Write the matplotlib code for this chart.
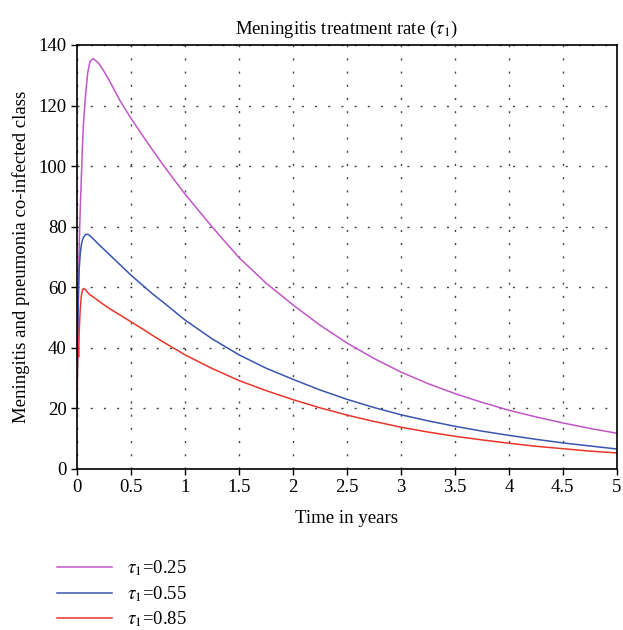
import numpy as np
import matplotlib
matplotlib.use("Agg")
import matplotlib.pyplot as plt

plt.rcParams["font.family"] = ["Liberation Serif", "DejaVu Serif"]
plt.rcParams["mathtext.fontset"] = "stix"

# time points (years)
t = [0, 0.005, 0.01, 0.015, 0.02, 0.03, 0.04, 0.05, 0.06, 0.08, 0.1, 0.12,
     0.15, 0.2, 0.25, 0.3, 0.4, 0.5, 0.6, 0.7, 0.8, 0.9, 1.0, 1.25, 1.5, 1.75,
     2.0, 2.25, 2.5, 2.75, 3.0, 3.25, 3.5, 3.75, 4.0, 4.25, 4.5, 4.75, 5.0]

# co-infected class for each treatment rate
tau_025 = [20, 35, 50, 62, 73, 86, 96, 106, 114, 124, 131, 134.5,
           135.5, 134, 131.3, 128.2, 121.5, 115.8, 110.5, 105.3, 100.3, 95.5, 90.8, 80, 69.8, 61.4,
           54.2, 47.5, 41.6, 36.5, 32.0, 28.2, 24.9, 22.0, 19.4, 17.2, 15.2, 13.4, 11.8]
tau_055 = [20, 40, 52, 60, 66, 71, 74, 75.5, 76.5, 77.4, 77.5, 77,
           76, 74.2, 72.5, 70.8, 67.4, 64.0, 60.9, 57.8, 55.0, 52.1, 49.2, 43, 37.7, 33.3,
           29.6, 26.1, 23.0, 20.3, 17.9, 15.9, 14.1, 12.5, 11.1, 9.8, 8.6, 7.6, 6.6]
tau_085 = [22, 38, 40.5, 37, 45, 53, 57, 59, 59.6, 59.2, 58.2, 57.5,
           56.8, 55.5, 54.2, 53.0, 50.8, 48.6, 46.4, 44.1, 41.9, 39.8, 37.7, 33.2, 29.2, 25.9,
           22.9, 20.2, 17.8, 15.7, 13.8, 12.2, 10.8, 9.6, 8.5, 7.5, 6.7, 5.9, 5.3]

xticks = [0, 0.5, 1, 1.5, 2, 2.5, 3, 3.5, 4, 4.5, 5]
xlabels = ["0", "0.5", "1", "1.5", "2", "2.5", "3", "3.5", "4", "4.5", "5"]
yticks = [0, 20, 40, 60, 80, 100, 120, 140]

fig = plt.figure(figsize=(6.23, 6.3), dpi=100)
ax = fig.add_axes([0.1236, 0.2556, 0.8665, 0.673])

ax.plot(t, tau_025, color="#c156c9", lw=1.1, label=r"$\tau_1$=0.25")
ax.plot(t, tau_055, color="#3a55b0", lw=1.1, label=r"$\tau_1$=0.55")
ax.plot(t, tau_085, color="#e8362a", lw=1.1, label=r"$\tau_1$=0.85")

ax.set_xlim(0, 5)
ax.set_ylim(0, 140)
ax.set_xticks(xticks)
ax.set_xticklabels(xlabels)
ax.set_yticks(yticks)
ax.tick_params(direction="out", length=4, width=1, labelsize=13.5, top=False, right=False)
ax.grid(True, color="#444444", linestyle=(0, (1.5, 8)), linewidth=1.0)
for s in ax.spines.values():
    s.set_linewidth(1.2)
    s.set_color("black")

ax.set_title(r"Meningitis treatment rate ($\tau_1$)", fontsize=13.5, pad=8)
ax.set_xlabel("Time in years", fontsize=13.5, labelpad=10)
ax.set_ylabel("Meningitis and pneumonia co-infected class", fontsize=13.5, labelpad=6)

fig.legend(loc="upper left", bbox_to_anchor=(0.08, 0.125), frameon=False,
           fontsize=13.5, handlelength=2.9, handletextpad=0.8, labelspacing=0.3,
           borderaxespad=0)

fig.savefig("out.png", dpi=100)
